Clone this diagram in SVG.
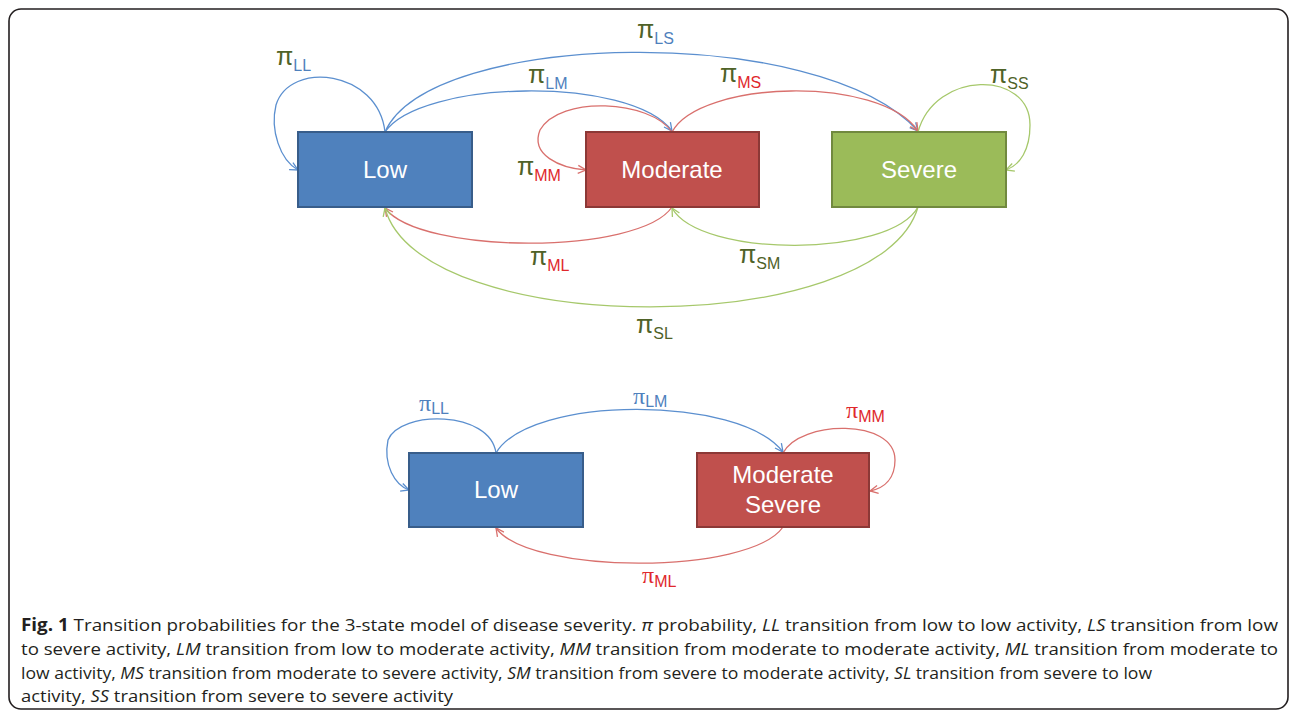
<svg xmlns="http://www.w3.org/2000/svg" width="1296" height="718" viewBox="0 0 1296 718">
<style>
.box-l{fill:#4F81BD;stroke:#385D8A;stroke-width:2}
.box-m{fill:#C0504D;stroke:#8C3836;stroke-width:2}
.box-s{fill:#9BBB59;stroke:#71893F;stroke-width:2}
.nt{font-family:"Liberation Sans",Arial,sans-serif;font-size:24px;fill:#FFFFFF;text-anchor:middle}
.cb{fill:none;stroke:#5B8FCF;stroke-width:1.3}
.cr{fill:none;stroke:#D9706D;stroke-width:1.3}
.cg{fill:none;stroke:#A6C86B;stroke-width:1.3}
.pi{font-family:"Liberation Sans",Arial,sans-serif;font-size:25px;fill:#4F6228}
.pi2{font-family:"Liberation Serif","Times New Roman",serif;font-size:24px}
.sub{font-family:"Liberation Sans",Arial,sans-serif;font-size:16px}
.bl{fill:#4F81BD}
.rd{fill:#E0282C}
.ol{fill:#4F6228}
.cap{font-family:"Open Sans","Noto Sans",sans-serif;font-size:17px;fill:#231F20}
.it{font-style:italic}
.bd{font-weight:bold}
</style>
<defs>
<marker id="ab" markerWidth="10" markerHeight="10" refX="9" refY="5" orient="auto" markerUnits="userSpaceOnUse"><path d="M1,1 L9,5 L1,9" fill="none" stroke="#5B8FCF" stroke-width="1.3"/></marker>
<marker id="ar" markerWidth="10" markerHeight="10" refX="9" refY="5" orient="auto" markerUnits="userSpaceOnUse"><path d="M1,1 L9,5 L1,9" fill="none" stroke="#D9706D" stroke-width="1.3"/></marker>
<marker id="ag" markerWidth="10" markerHeight="10" refX="9" refY="5" orient="auto" markerUnits="userSpaceOnUse"><path d="M1,1 L9,5 L1,9" fill="none" stroke="#A6C86B" stroke-width="1.3"/></marker>
</defs>
<rect x="9" y="9" width="1279" height="700" rx="12" fill="#FFFFFF" stroke="#231F20" stroke-width="1.6"/>

<g id="connectors">
<path class="cb" d="M385,132 C378,70 290,60 276,105 C270,130 280,160 298,170" marker-end="url(#ab)"/>
<path class="cb" d="M385,132 C420,80 630,75 672,131" marker-end="url(#ab)"/>
<path class="cb" d="M385,132 C430,30 820,22 918,131" marker-end="url(#ab)"/>
<path class="cr" d="M672,132 C700,80 880,75 918,131" marker-end="url(#ar)"/>
<path class="cr" d="M672,132 C650,100 560,95 540,130 C530,155 560,168 586,170" marker-end="url(#ar)"/>
<path class="cg" d="M918,132 C935,70 1030,70 1030,125 C1030,150 1020,165 1006,170" marker-end="url(#ag)"/>
<path class="cr" d="M672,207 C640,255 420,255 385,208" marker-end="url(#ar)"/>
<path class="cg" d="M918,207 C890,258 700,258 672,208" marker-end="url(#ag)"/>
<path class="cg" d="M918,207 C880,340 420,340 385,208" marker-end="url(#ag)"/>

<path class="cb" d="M496,453 C490,410 400,410 388,440 C383,465 395,485 409,490" marker-end="url(#ab)"/>
<path class="cb" d="M496,453 C530,395 740,395 783,452" marker-end="url(#ab)"/>
<path class="cr" d="M783,453 C800,420 895,418 895,460 C895,478 885,488 870,491" marker-end="url(#ar)"/>
<path class="cr" d="M783,527 C750,575 530,575 496,528" marker-end="url(#ar)"/>
</g>

<g id="labels">
<text class="pi" x="276" y="65">π<tspan class="sub bl" dy="6">LL</tspan></text>
<text class="pi" x="637" y="38">π<tspan class="sub bl" dy="6">LS</tspan></text>
<text class="pi" x="528" y="83">π<tspan class="sub bl" dy="6">LM</tspan></text>
<text class="pi" x="720" y="82">π<tspan class="sub rd" dy="6">MS</tspan></text>
<text class="pi" x="517" y="175">π<tspan class="sub rd" dy="6">MM</tspan></text>
<text class="pi" x="990" y="83">π<tspan class="sub ol" dy="6">SS</tspan></text>
<text class="pi" x="530" y="265">π<tspan class="sub rd" dy="6">ML</tspan></text>
<text class="pi" x="739" y="263">π<tspan class="sub ol" dy="6">SM</tspan></text>
<text class="pi" x="636" y="333">π<tspan class="sub ol" dy="6">SL</tspan></text>

<text class="pi2 bl" x="419" y="411">π<tspan class="sub" dy="3">LL</tspan></text>
<text class="pi2 bl" x="633" y="404">π<tspan class="sub" dy="3">LM</tspan></text>
<text class="pi2 rd" x="846" y="418">π<tspan class="sub" dy="4">MM</tspan></text>
<text class="pi2 rd" x="642" y="583">π<tspan class="sub" dy="4">ML</tspan></text>
</g>

<g id="node-low">
<rect class="box-l" x="298" y="132" width="174" height="75"/>
<text class="nt" x="385" y="178">Low</text>
</g>
<g id="node-moderate">
<rect class="box-m" x="586" y="132" width="173" height="75"/>
<text class="nt" x="672" y="178">Moderate</text>
</g>
<g id="node-severe">
<rect class="box-s" x="832" y="132" width="174" height="75"/>
<text class="nt" x="919" y="178">Severe</text>
</g>
<g id="node-low2">
<rect class="box-l" x="409" y="453" width="174" height="74"/>
<text class="nt" x="496" y="498">Low</text>
</g>
<g id="node-modsev">
<rect class="box-m" x="697" y="453" width="172" height="74"/>
<text class="nt" x="783" y="483">Moderate</text>
<text class="nt" x="783" y="513">Severe</text>
</g>

<g id="caption">
<text class="cap" x="21" y="631" textLength="1257" lengthAdjust="spacingAndGlyphs"><tspan class="bd">Fig. 1</tspan> Transition probabilities for the 3-state model of disease severity. <tspan class="it">π</tspan> probability, <tspan class="it">LL</tspan> transition from low to low activity, <tspan class="it">LS</tspan> transition from low</text>
<text class="cap" x="21" y="655" textLength="1257" lengthAdjust="spacingAndGlyphs">to severe activity, <tspan class="it">LM</tspan> transition from low to moderate activity, <tspan class="it">MM</tspan> transition from moderate to moderate activity, <tspan class="it">ML</tspan> transition from moderate to</text>
<text class="cap" x="21" y="679" textLength="1131" lengthAdjust="spacingAndGlyphs">low activity, <tspan class="it">MS</tspan> transition from moderate to severe activity, <tspan class="it">SM</tspan> transition from severe to moderate activity, <tspan class="it">SL</tspan> transition from severe to low</text>
<text class="cap" x="21" y="702" textLength="432" lengthAdjust="spacingAndGlyphs">activity, <tspan class="it">SS</tspan> transition from severe to severe activity</text>
</g>
</svg>
